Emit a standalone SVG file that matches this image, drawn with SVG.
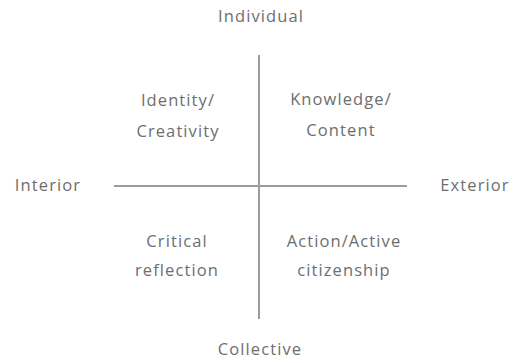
<svg xmlns="http://www.w3.org/2000/svg" width="515" height="363" viewBox="0 0 515 363">
<style>
text{font-family:"Open Sans","Liberation Sans",sans-serif;font-size:16.5px;letter-spacing:1.1px;fill:#6e6e6e;text-anchor:middle}
.ax{stroke:#9c9c9c;stroke-width:2;fill:none}
</style>
<rect width="515" height="363" fill="#fff"/>
<g id="connectors">
<line class="ax" x1="259" y1="55" x2="259" y2="319"/>
<line class="ax" x1="114" y1="186" x2="407" y2="186"/>
</g>
<g id="individual"><text x="261" y="22">Individual</text></g>
<g id="collective"><text x="260" y="355">Collective</text></g>
<g id="interior"><text x="48" y="191">Interior</text></g>
<g id="exterior"><text x="475" y="191">Exterior</text></g>
<g id="identity"><text x="178" y="106">Identity/</text><text x="178" y="137">Creativity</text></g>
<g id="knowledge"><text x="341" y="105">Knowledge/</text><text x="341" y="136">Content</text></g>
<g id="critical"><text x="177" y="247">Critical</text><text x="177" y="276">reflection</text></g>
<g id="action"><text x="344" y="247">Action/Active</text><text x="344" y="276">citizenship</text></g>
</svg>
